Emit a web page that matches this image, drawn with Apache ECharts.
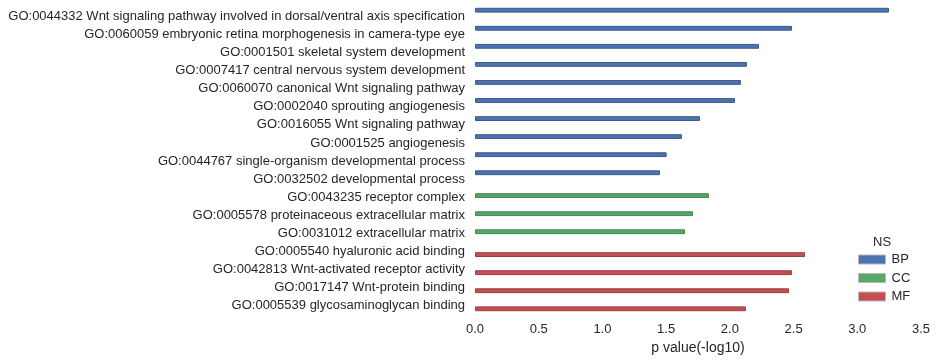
<!DOCTYPE html>
<html><head><meta charset="utf-8">
<script src="https://cdn.jsdelivr.net/npm/echarts@6/dist/echarts.min.js"></script>
<style>html,body{margin:0;padding:0;background:#fff}#c{width:937px;height:362px}</style>
</head><body><div id="c"></div>
<script>
const categories = [
  "GO:0044332 Wnt signaling pathway involved in dorsal/ventral axis specification",
  "GO:0060059 embryonic retina morphogenesis in camera-type eye",
  "GO:0001501 skeletal system development",
  "GO:0007417 central nervous system development",
  "GO:0060070 canonical Wnt signaling pathway",
  "GO:0002040 sprouting angiogenesis",
  "GO:0016055 Wnt signaling pathway",
  "GO:0001525 angiogenesis",
  "GO:0044767 single-organism developmental process",
  "GO:0032502 developmental process",
  "GO:0043235 receptor complex",
  "GO:0005578 proteinaceous extracellular matrix",
  "GO:0031012 extracellular matrix",
  "GO:0005540 hyaluronic acid binding",
  "GO:0042813 Wnt-activated receptor activity",
  "GO:0017147 Wnt-protein binding",
  "GO:0005539 glycosaminoglycan binding"
];
const namespaces = ["BP","BP","BP","BP","BP","BP","BP","BP","BP","BP","CC","CC","CC","MF","MF","MF","MF"];
const pValues = [3.249, 2.488, 2.229, 2.134, 2.087, 2.040, 1.766, 1.624, 1.504, 1.452, 1.836, 1.711, 1.648, 2.590, 2.488, 2.464, 2.127];
const groups = ["BP", "CC", "MF"];
const colors = {BP: "#4C72B0", CC: "#55A868", MF: "#C44E52"};
const borders = {BP: "#3d5a8c", CC: "#448653", MF: "#9c3e41"};
const xTicks = [0, 0.5, 1, 1.5, 2, 2.5, 3, 3.5];

const font = "'Liberation Sans', Arial, sans-serif";
const chart = echarts.init(document.getElementById('c'));
const series = groups.map(g => ({
  name: g,
  type: 'bar',
  barGap: '0%',
  barCategoryGap: '20%',
  itemStyle: {color: colors[g], borderColor: borders[g], borderWidth: 1},
  data: pValues.map((v, i) => namespaces[i] === g ? v : null),
  animation: false
}));
chart.setOption({
  animation: false,
  title: {text: 'NS', left: 868, top: 231, textStyle: {fontFamily: font, fontSize: 13, fontWeight: 'normal', color: '#262626'}},
  legend: {
    data: groups, orient: 'vertical', left: 853, top: 248,
    itemWidth: 27, itemHeight: 9, itemGap: 5.5, icon: 'rect',
    itemStyle: {borderColor: '#b8b8b8', borderWidth: 1},
    textStyle: {fontFamily: font, fontSize: 13, color: '#262626', padding: [0,0,0,1]},
    selectedMode: false
  },
  grid: {left: 475, right: 16, top: 6, bottom: 49, containLabel: false},
  xAxis: {
    type: 'value', min: 0, max: 3.5, interval: 0.5,
    axisLine: {show: false}, axisTick: {show: false}, splitLine: {show: false},
    axisLabel: {fontFamily: font, fontSize: 13, color: '#262626', margin: 10,
      formatter: v => v.toFixed(1)},
    name: 'p value(-log10)', nameLocation: 'middle', nameGap: 28,
    nameTextStyle: {fontFamily: font, fontSize: 14, color: '#262626'}
  },
  yAxis: {
    type: 'category', data: categories, inverse: true,
    axisLine: {show: false}, axisTick: {show: false}, splitLine: {show: false},
    axisLabel: {fontFamily: font, fontSize: 13, color: '#262626', margin: 10, interval: 0,
      formatter: v => '{a|' + v + '}',
      rich: {a: {fontFamily: font, fontSize: 13, color: '#262626', padding: [3, 0, 0, 0]}}}
  },
  series: series
});
</script></body></html>
